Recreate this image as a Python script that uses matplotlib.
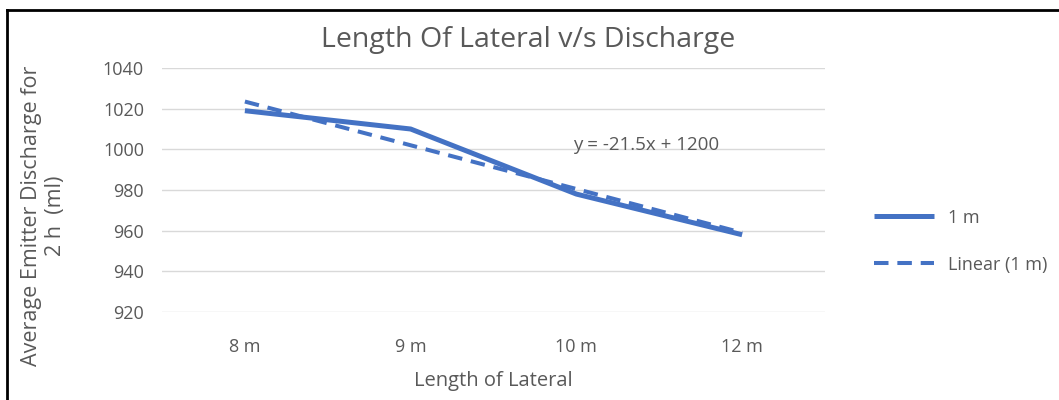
import matplotlib.pyplot as plt
import numpy as np

plt.rcParams['font.family'] = ['Open Sans', 'DejaVu Sans']

categories = ["8 m", "9 m", "10 m", "12 m"]
discharge = [1019, 1010, 978, 958]
equation_label = "y = -21.5x + 1200"

blue = "#4472C4"
grey = "#595959"


def main():
    fig = plt.figure(figsize=(10.59, 4.0), dpi=100)
    ax = fig.add_axes([0.153, 0.22, 0.626, 0.61])

    x = np.arange(len(categories))
    # Excel-style linear trendline (fit on 1..n)
    slope, icept = np.polyfit(x + 1, discharge, 1)
    trend = slope * (x + 1) + icept

    ax.plot(x, discharge, color=blue, lw=3.6, label="1 m", solid_capstyle="butt")
    ax.plot(x, trend, color=blue, lw=2.9, ls=(0, (3.6, 2.2)), label="Linear (1 m)")

    ax.set_xlim(-0.5, len(categories) - 0.5)
    ax.set_ylim(920, 1040)
    ax.set_yticks(np.arange(920, 1041, 20))
    ax.set_xticks(x)
    ax.set_xticklabels(categories)
    ax.grid(axis="y", color="#d9d9d9", lw=1)
    ax.set_axisbelow(True)
    for s in ax.spines.values():
        s.set_visible(False)
    ax.tick_params(length=0, labelsize=13, colors=grey, pad=13)
    ax.tick_params(axis="x", pad=19)

    ax.text(2.42, 1002, equation_label, fontsize=13.5, color=grey, ha="center", va="center")

    fig.text(0.499, 0.9, "Length Of Lateral v/s Discharge", fontsize=20.5, color=grey,
             ha="center", va="center")
    fig.text(0.466, 0.047, "Length of Lateral", fontsize=14.5, color=grey, ha="center", va="center")
    fig.text(0.041, 0.46, "Average Emitter Discharge for\n2 h  (ml)", fontsize=15.5, color=grey,
             ha="center", va="center", rotation=90, linespacing=1.15)

    ax.legend(loc="center left", bbox_to_anchor=(1.05, 0.29), frameon=False, fontsize=13,
              labelcolor=grey, handlelength=3.3, handletextpad=0.8, labelspacing=1.6)

    # border lines at top and left like the screenshot
    fig.add_artist(plt.Line2D([0.0066, 1.0], [0.975, 0.975], color="black", lw=2))
    fig.add_artist(plt.Line2D([0.0066, 0.0066], [0.0, 0.975], color="black", lw=2))

    fig.savefig("out.png", dpi=100)


if __name__ == "__main__":
    main()
